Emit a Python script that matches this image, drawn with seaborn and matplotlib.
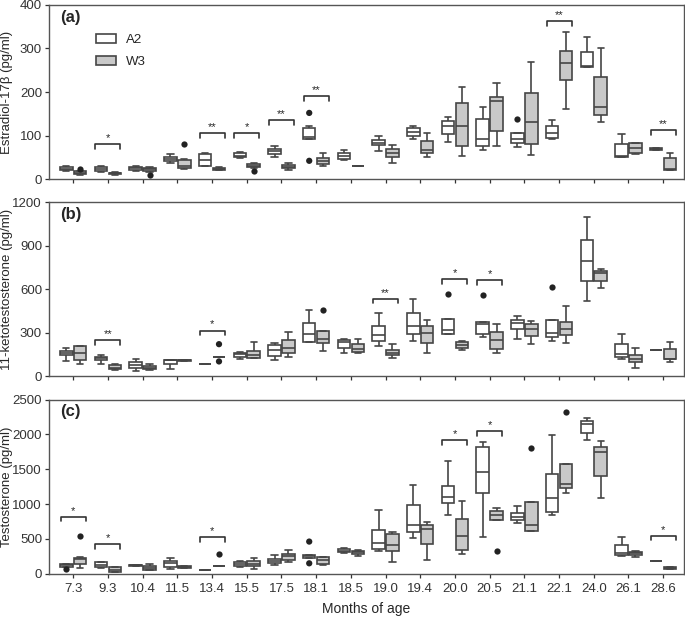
import pandas as pd
import matplotlib.pyplot as plt
import seaborn as sns

ages = ['7.3', '9.3', '10.4', '11.5', '13.4', '15.5', '17.5', '18.1', '18.5',
        '19.0', '19.4', '20.0', '20.5', '21.1', '22.1', '24.0', '26.1', '28.6']
groups = ['A2', 'W3']

# five-number summaries per age: [min, q1, median, q3, max]
e2_a2 = [[18, 20, 24, 28, 31], [17, 19, 23, 27, 31], [19, 21, 25, 27, 30], [37, 41, 46, 51, 57],
         [30, 31, 45, 57, 59], [48, 50, 54, 59, 63], [51, 57, 64, 70, 77], [91, 91, 97, 117, 123],
         [44, 47, 53, 59, 67], [65, 78, 84, 89, 98], [91, 100, 108, 117, 122], [85, 104, 122, 133, 143],
         [67, 75, 93, 139, 166], [73, 83, 91, 105, 105], [91, 94, 107, 121, 136], [257, 257, 259, 293, 326],
         [51, 51, 53, 80, 104], [66, 66, 69, 72, 72]]
e2_w3 = [[10, 12, 15, 18, 19], [10, 11, 13, 15, 17], [17, 19, 23, 26, 27], [23, 25, 29, 44, 46],
         [21, 22, 24, 26, 27], [25, 27, 31, 34, 38], [22, 25, 28, 33, 37], [31, 34, 41, 49, 61],
         [31, 31, 31, 31, 31], [37, 51, 60, 70, 78], [51, 59, 67, 88, 105], [54, 76, 122, 174, 212],
         [77, 110, 179, 188, 221], [56, 80, 130, 197, 269], [160, 227, 266, 294, 339], [130, 148, 166, 234, 300],
         [57, 61, 71, 82, 84], [22, 22, 24, 48, 61]]
e2_out = [('7.3', 'W3', 23), ('10.4', 'W3', 10), ('11.5', 'W3', 80), ('15.5', 'W3', 18),
          ('18.1', 'A2', 152), ('18.1', 'A2', 42), ('21.1', 'A2', 139)]
e2_sig = [('9.3', 80, '*'), ('13.4', 106, '**'), ('15.5', 106, '*'), ('17.5', 136, '**'),
          ('18.1', 191, '**'), ('22.1', 362, '**'), ('28.6', 113, '**')]

kt_a2 = [[108, 147, 158, 172, 197], [85, 110, 124, 137, 149], [39, 60, 80, 101, 119], [50, 82, 112, 112, 112],
         [85, 85, 85, 85, 85], [121, 135, 151, 158, 169], [112, 142, 185, 215, 227], [234, 234, 291, 371, 458],
         [160, 199, 240, 250, 255], [211, 245, 286, 348, 435], [247, 295, 346, 440, 534], [289, 291, 318, 398, 398],
         [268, 295, 360, 378, 378], [256, 330, 371, 389, 414], [245, 270, 298, 389, 389], [522, 655, 792, 943, 1099],
         [117, 131, 151, 224, 295], [183, 183, 183, 183, 183]]
kt_w3 = [[85, 112, 158, 211, 211], [41, 48, 55, 76, 82], [44, 48, 60, 73, 82], [108, 108, 110, 112, 112],
         [137, 137, 137, 137, 137], [124, 126, 149, 172, 236], [133, 160, 197, 252, 309], [176, 229, 256, 316, 316],
         [158, 169, 188, 222, 256], [126, 144, 163, 179, 222], [163, 231, 302, 346, 387], [179, 199, 215, 234, 243],
         [158, 190, 250, 307, 364], [222, 275, 325, 360, 385], [227, 284, 325, 376, 485], [607, 660, 714, 728, 742],
         [55, 96, 121, 149, 195], [96, 117, 117, 190, 234]]
kt_out = [('13.4', 'W3', 222), ('13.4', 'W3', 103), ('18.1', 'W3', 458), ('20.0', 'A2', 570),
          ('20.5', 'A2', 559), ('22.1', 'A2', 618)]
kt_sig = [('9.3', 250, '**'), ('13.4', 316, '*'), ('19.0', 536, '**'), ('20.0', 669, '*'), ('20.5', 662, '*')]

t_a2 = [[101, 101, 125, 144, 144], [86, 96, 130, 163, 163], [106, 106, 120, 130, 130], [72, 96, 149, 182, 221],
        [58, 58, 58, 58, 58], [101, 115, 139, 173, 187], [120, 149, 187, 216, 269], [226, 226, 254, 264, 264],
        [298, 312, 331, 350, 365], [331, 350, 446, 624, 921], [509, 595, 696, 984, 1276], [844, 1012, 1103, 1257, 1622],
        [523, 1161, 1454, 1818, 1890], [729, 768, 820, 878, 969], [844, 888, 1084, 1435, 1986],
        [1914, 2020, 2150, 2188, 2231], [254, 264, 297, 408, 533], [178, 178, 178, 178, 178]]
t_w3 = [[86, 134, 206, 221, 245], [19, 24, 60, 101, 101], [53, 53, 86, 115, 139], [82, 86, 101, 110, 115],
        [106, 106, 106, 106, 106], [62, 110, 139, 178, 221], [173, 192, 254, 288, 336], [125, 144, 197, 235, 245],
        [259, 278, 307, 326, 341], [173, 321, 408, 571, 605], [197, 422, 638, 696, 744], [283, 345, 542, 792, 1046],
        [772, 772, 840, 907, 940], [609, 609, 705, 1036, 1036], [1161, 1228, 1286, 1574, 1574],
        [1084, 1406, 1742, 1823, 1900], [235, 264, 293, 317, 331], [72, 72, 86, 101, 101]]
t_out = [('7.3', 'A2', 72), ('7.3', 'W3', 542), ('13.4', 'W3', 283), ('18.1', 'A2', 461), ('18.1', 'A2', 149),
         ('20.5', 'W3', 326), ('21.1', 'W3', 1804), ('22.1', 'W3', 2327)]
t_sig = [('7.3', 820, '*'), ('9.3', 427, '*'), ('13.4', 523, '*'), ('20.0', 1914, '*'),
         ('20.5', 2049, '*'), ('28.6', 547, '*')]

panels = [
    ('(a)', 'Estradiol-17β (pg/ml)', e2_a2, e2_w3, e2_out, e2_sig, 400, 100),
    ('(b)', '11-ketotestosterone (pg/ml)', kt_a2, kt_w3, kt_out, kt_sig, 1200, 300),
    ('(c)', 'Testosterone (pg/ml)', t_a2, t_w3, t_out, t_sig, 2500, 500),
]

sns.set_theme(style='ticks')
plt.rcParams['font.family'] = ['Liberation Sans', 'DejaVu Sans']
edge = '#454545'
palette = {'A2': 'white', 'W3': '#c9c9c9'}

fig, axes = plt.subplots(3, 1, figsize=(6.85, 6.19), dpi=100)
fig.subplots_adjust(left=0.0715, right=0.9985, top=0.992, bottom=0.0732, hspace=0.133)

for k, (ax, (tag, ylab, a2, w3, outs, sigs, ymax, ystep)) in enumerate(zip(axes, panels)):
    rows = []
    for age, s1, s2 in zip(ages, a2, w3):
        rows += [(age, 'A2', v) for v in s1]
        rows += [(age, 'W3', v) for v in s2]
    df = pd.DataFrame(rows, columns=['age', 'group', 'value'])
    fl = pd.DataFrame(outs, columns=['age', 'group', 'value'])

    sns.boxplot(data=df, x='age', y='value', hue='group', order=ages, hue_order=groups,
                palette=palette, whis=(0, 100), showfliers=False, width=0.8, gap=0.1,
                linecolor=edge, linewidth=1.2, ax=ax, legend=(k == 0))
    sns.stripplot(data=fl, x='age', y='value', hue='group', order=ages, hue_order=groups,
                  dodge=True, jitter=False, palette={'A2': '#222222', 'W3': '#222222'},
                  size=4.5, legend=False, ax=ax)

    d = ymax * 0.028
    for age, h, lab in sigs:
        i = ages.index(age)
        ax.plot([i - 0.36, i - 0.36, i + 0.36, i + 0.36], [h - d, h, h, h - d], color='#333333', lw=1.2)
        ax.text(i, h + d * 0.2, lab, ha='center', va='bottom', fontsize=8)

    ax.set_xlim(-0.7, 17.6)
    ax.set_ylim(0, ymax)
    ax.set_yticks(range(0, ymax + 1, ystep))
    ax.set_ylabel(ylab, fontsize=9.5)
    ax.yaxis.set_label_coords(-0.057, 0.5)
    ax.text(0.018, 0.93, tag, transform=ax.transAxes, fontsize=12, fontweight='bold', va='center')
    for sp in ax.spines.values():
        sp.set_visible(True)
        sp.set_color('#555555')
        sp.set_linewidth(1)
    ax.tick_params(axis='both', colors='#333333', labelsize=9.5, length=3, width=0.9,
                   pad=2, direction='out')
    ax.tick_params(top=False, right=False)
    if k < 2:
        ax.tick_params(labelbottom=False)
        ax.set_xlabel('')
    else:
        ax.tick_params(axis='x', pad=4)
        ax.set_xlabel('Months of age', fontsize=10, labelpad=5)

sns.move_legend(axes[0], 'upper left', bbox_to_anchor=(0.055, 0.9), frameon=False, title=None,
                fontsize=9.5, handlelength=1.5, labelspacing=0.7)

fig.savefig('out.png', dpi=100)
